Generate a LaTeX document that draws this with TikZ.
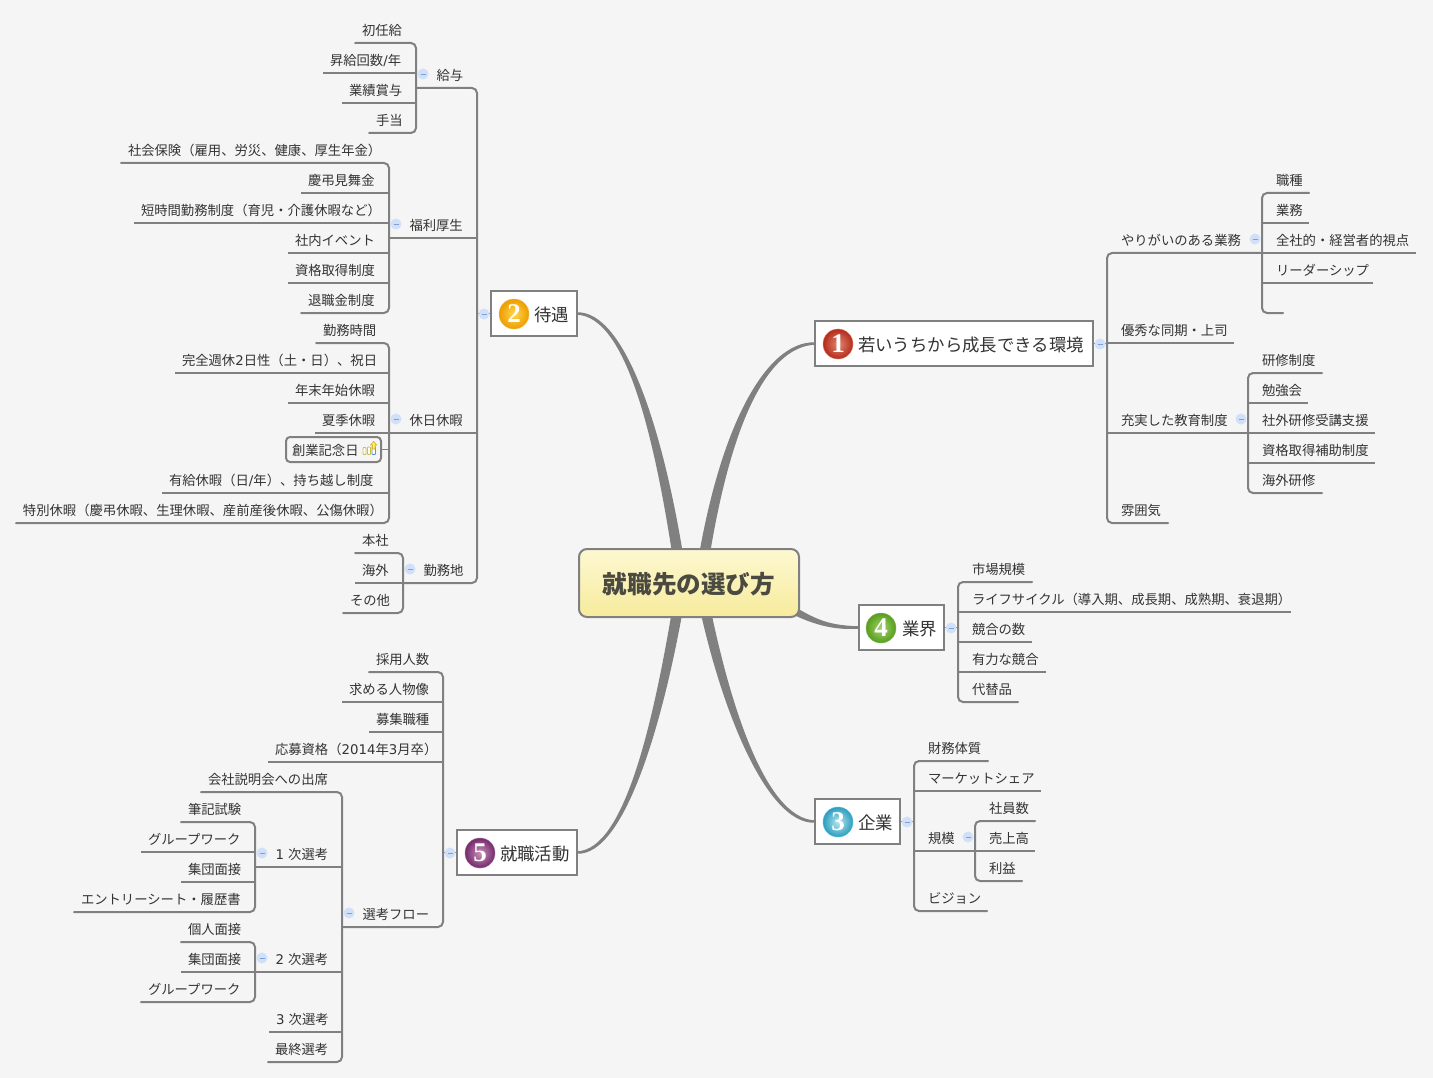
\documentclass[tikz,border=0pt]{standalone}
\usepackage{fontspec}
\setmainfont{Noto Sans CJK JP}
\newfontfamily\lat{DejaVu Sans}
\newfontfamily\numf{Liberation Serif}
\usetikzlibrary{calc,backgrounds,shadings}
\definecolor{bgc}{HTML}{F5F5F5}
\definecolor{linec}{HTML}{808080}
\definecolor{txtc}{HTML}{333333}
\definecolor{minf}{HTML}{CFE0F8}
\definecolor{mind}{HTML}{7F9FD0}
\definecolor{cTop}{HTML}{FDF8D2}
\definecolor{cBot}{HTML}{F7EB9C}
\definecolor{cTxt}{HTML}{4A4A40}
\definecolor{redIn}{HTML}{E08A74}
\definecolor{redOut}{HTML}{B42A18}
\definecolor{orIn}{HTML}{FFD84F}
\definecolor{orOut}{HTML}{EE9C00}
\definecolor{blIn}{HTML}{B8E6EE}
\definecolor{blOut}{HTML}{2A9DC0}
\definecolor{grIn}{HTML}{A8D66C}
\definecolor{grOut}{HTML}{569C1E}
\definecolor{puIn}{HTML}{C890B8}
\definecolor{puOut}{HTML}{752A6C}
\definecolor{icoY}{HTML}{C8C040}
\definecolor{icoB}{HTML}{5F8FD8}
\tikzset{
  leaf/.style={anchor=west,inner sep=0pt,outer sep=0pt,minimum height=26pt,text height=12pt,text depth=1pt,text=txtc,font=\fontsize{13.33}{15}\selectfont},
  conn/.style={draw=linec,line width=2pt,line cap=round},
  busline/.style={conn,rounded corners=5pt},
  topicbox/.style={draw=linec,fill=white,line width=2pt,anchor=west,inner sep=0pt,outer sep=0pt,minimum height=45pt,text height=15.5pt,text depth=.5pt,text=txtc,font=\fontsize{17.4}{20}\selectfont},
  centerbox/.style={draw=linec,line width=2pt,rounded corners=8pt,top color=cTop,bottom color=cBot,minimum width=220pt,minimum height=68pt,inner sep=0pt,outer sep=0pt,text=cTxt,text height=21pt,text depth=.2pt,font=\fontsize{24.6}{28}\bfseries\selectfont},
  marker/.style={circle,minimum size=30pt,inner sep=0pt,outer sep=0pt,text=white,line width=.5pt,font=\numf\bfseries\fontsize{27}{28}\selectfont},
  minusicon/.style={circle,fill=minf,minimum size=11pt,inner sep=0pt,outer sep=0pt,
    path picture={\draw[mind,line width=.8pt] ([xshift=3pt]path picture bounding box.west) -- ([xshift=-3pt]path picture bounding box.east);}},
  linkfill/.style={fill=linec},
  dbox/.style={draw=linec,line width=2pt,rounded corners=4pt,fill=bgc,inner sep=0pt,outer sep=0pt,minimum height=25pt,anchor=west,text height=12pt,text depth=1pt,text=txtc,font=\fontsize{13.33}{15}\selectfont}
}
% left-side leaf: text begins 7 after the left end and may run past its width
\newcommand\LL[5]{\node[leaf] (#1) at (#2,#4) {\hbox to \dimexpr#3pt-#2pt\relax{\hspace*{7pt}#5\hss}};}
% left-side parent: text begins 20.5 after the left end
\newcommand\LP[5]{\node[leaf] (#1) at (#2,#4) {\hbox to \dimexpr#3pt-#2pt\relax{\hspace*{20.5pt}#5\hss}};}
% right side: text begins 14 after the left end
\newcommand\RR[5]{\node[leaf] (#1) at (#2,#4) {\hbox to \dimexpr#3pt-#2pt\relax{\hspace*{14pt}#5\hss}};}
\newcommand\bracketL[2]{\draw[busline] (#1.south west) -- (#1.south east) -- (#2.south east) -- (#2.south west);}
\newcommand\bracketR[2]{\draw[busline] (#1.south east) -- (#1.south west) -- (#2.south west) -- (#2.south east);}
% topic: name, left, right, y, text
\newcommand\topic[5]{\node[topicbox] (#1) at (#2,#4) {\hbox to \dimexpr#3pt-#2pt\relax{\hspace*{43pt}#5\hfil}};}
\newcommand\taper[8]{% start, c1, c2, end, sy, sx, hw start, hw end
  \fill[linkfill] ($(#1)+(0,#5*#7)$) .. controls ($(#2)+(0,#5*#7*2.5)$) and ($(#3)+(#6*#8*.95,0)$) .. ($(#4)+(#6*#8,0)$)
   -- ($(#4)+(-1*#6*#8,0)$) .. controls ($(#3)+(-1*#6*#8*.95,0)$) and ($(#2)+(0,-1*#5*#7*2.5)$) .. ($(#1)+(0,-1*#5*#7)$) -- cycle;}
\begin{document}
\begin{tikzpicture}[x=1pt,y=-1pt]
\useasboundingbox (0,0) rectangle (1433,1078);
\begin{pgfonlayer}{background}
\fill[bgc] (0,0) rectangle (1433,1078);
\end{pgfonlayer}

% central topic
\node[centerbox] (root) at (689,583) {就職先の選び方};

% main topics
\topic{t1}{815}{1093}{343.5}{若いうちから成長できる環境}
\topic{t2}{491}{577}{313.5}{待遇}
\topic{t3}{815}{900}{821.5}{企業}
\topic{t4}{859}{944}{627.5}{業界}
\topic{t5}{457}{577}{852.5}{就職活動}

\node[marker,inner color=redIn,outer color=redOut,draw=redOut!60] (m1) at ([xshift=23pt,yshift=-.5pt]t1.west) {1};
\node[marker,inner color=orIn,outer color=orOut,draw=orOut!70] (m2) at ([xshift=23pt,yshift=-.5pt]t2.west) {2};
\node[marker,inner color=blIn,outer color=blOut,draw=blOut!70] (m3) at ([xshift=23pt,yshift=-.5pt]t3.west) {3};
\node[marker,inner color=grIn,outer color=grOut,draw=grOut!70] (m4) at ([xshift=22pt,yshift=-.5pt]t4.west) {4};
\node[marker,inner color=puIn,outer color=puOut,draw=puOut!70] (m5) at ([xshift=23pt,yshift=-.5pt]t5.west) {5};

% 待遇
\LP{a}{416}{477}{75}{給与}
\LP{b}{389}{477}{225}{福利厚生}
\LP{c}{389}{477}{420}{休日休暇}
\LP{d}{403}{477}{570}{勤務地}

\LL{a1}{355}{416}{30}{初任給}
\LL{a2}{323}{416}{60}{昇給回数{\lat /}年}
\LL{a3}{342}{416}{90}{業績賞与}
\LL{a4}{369}{416}{120}{手当}

\LL{b1}{121}{389}{150}{社会保険（雇用、労災、健康、厚生年金）}
\LL{b2}{301}{389}{180}{慶弔見舞金}
\LL{b3}{134}{389}{210}{短時間勤務制度（育児・介護休暇など）}
\LL{b4}{288}{389}{240}{社内イベント}
\LL{b5}{288}{389}{270}{資格取得制度}
\LL{b6}{301}{389}{300}{退職金制度}

\LL{c1}{316}{389}{330}{勤務時間}
\LL{c2}{175}{389}{360}{完全週休{\lat 2}日性（土・日）、祝日}
\LL{c3}{288}{389}{390}{年末年始休暇}
\LL{c4}{315}{389}{420}{夏季休暇}
\LL{c6}{162}{389}{480}{有給休暇（日{\lat /}年）、持ち越し制度}
\LL{c7}{16}{389}{510}{特別休暇（慶弔休暇、生理休暇、産前産後休暇、公傷休暇）}
\node[dbox] (c5) at (286,449.5) {\hbox to 95pt{\hspace*{6pt}創業記念日\hfil}};

\LL{d1}{355}{403}{540}{本社}
\LL{d2}{355}{403}{570}{海外}
\LL{d3}{343}{403}{600}{その他}

% 就職活動
\LL{e1}{369}{443}{659}{採用人数}
\LL{e2}{342}{443}{689}{求める人物像}
\LL{e3}{369}{443}{719}{募集職種}
\LL{e4}{268}{443}{749}{応募資格（{\lat 2014}年{\lat 3}月卒）}
\LP{e5}{342}{443}{914}{選考フロー}

\LL{f1}{201}{342}{779}{会社説明会への出席}
\LP{f2}{255}{342}{854}{{\lat 1 }次選考}
\LP{f3}{255}{342}{959}{{\lat 2 }次選考}
\LL{f4}{269}{342}{1019}{{\lat 3 }次選考}
\LL{f5}{268}{342}{1049}{最終選考}

\LL{g1}{181}{255}{809}{筆記試験}
\LL{g2}{141}{255}{839}{グループワーク}
\LL{g3}{181}{255}{869}{集団面接}
\LL{g4}{74}{255}{899}{エントリーシート・履歴書}

\LL{h1}{181}{255}{929}{個人面接}
\LL{h2}{181}{255}{959}{集団面接}
\LL{h3}{141}{255}{989}{グループワーク}

% 若いうちから成長できる環境
\RR{i}{1107}{1262}{240}{やりがいのある業務}
\RR{j}{1107}{1234}{330}{優秀な同期・上司}
\RR{k}{1107}{1248}{420}{充実した教育制度}
\RR{l}{1107}{1168}{510}{雰囲気}

\RR{i1}{1262}{1309}{180}{職種}
\RR{i2}{1262}{1309}{210}{業務}
\RR{i3}{1262}{1416}{240}{全社的・経営者的視点}
\RR{i4}{1262}{1373}{270}{リーダーシップ}
\RR{i5}{1262}{1283}{300}{}

\RR{k1}{1248}{1322}{360}{研修制度}
\RR{k2}{1248}{1308}{390}{勉強会}
\RR{k3}{1248}{1375}{420}{社外研修受講支援}
\RR{k4}{1248}{1375}{450}{資格取得補助制度}
\RR{k5}{1248}{1322}{480}{海外研修}

% 業界
\RR{n1}{958}{1032}{569}{市場規模}
\RR{n2}{958}{1291}{599}{ライフサイクル（導入期、成長期、成熟期、衰退期）}
\RR{n3}{958}{1032}{629}{競合の数}
\RR{n4}{958}{1046}{659}{有力な競合}
\RR{n5}{958}{1018}{689}{代替品}

% 企業
\RR{o1}{914}{988}{748}{財務体質}
\RR{o2}{914}{1041}{778}{マーケットシェア}
\RR{o3}{914}{975}{838}{規模}
\RR{o4}{914}{987}{898}{ビジョン}

\RR{p1}{975}{1035}{808}{社員数}
\RR{p2}{975}{1035}{838}{売上高}
\RR{p3}{975}{1022}{868}{利益}

% connectors
\foreach \n in {b,c,a2,a3,b2,b3,b4,b5,c2,c3,c4,c6,d2,e2,e3,e4,f2,f3,f4,g2,g3,h2,j,k,i2,i3,i4,k2,k3,k4,n2,n3,n4,o2,o3,p2}
  \draw[conn,line cap=butt] (\n.south west) -- (\n.south east);
\bracketL{a}{d}
\bracketL{a1}{a4}
\bracketL{b1}{b6}
\bracketL{c1}{c7}
\bracketL{d1}{d3}
\bracketL{e1}{e5}
\bracketL{f1}{f5}
\bracketL{g1}{g4}
\bracketL{h1}{h3}
\bracketR{i}{l}
\bracketR{i1}{i5}
\bracketR{k1}{k5}
\bracketR{n1}{n5}
\bracketR{o1}{o4}
\bracketR{p1}{p3}
\draw[conn,line width=1.2pt] (c5.east) -- (c5.east -| c1.south east);
\draw[conn,line width=1pt] (t2.west) -- (t2.west -| a.south east);
\draw[conn,line width=1pt] (t5.west) -- (t5.west -| e1.south east);
\draw[conn,line width=1pt] (t1.east) -- (t1.east -| i.south west);
\draw[conn,line width=1pt] (t4.east) -- (t4.east -| n1.south west);
\draw[conn,line width=1pt] (t3.east) -- (t3.east -| o1.south west);

% collapse icons
\node[minusicon] (ma) at (423,74) {};
\node[minusicon] (mb) at (396,224) {};
\node[minusicon] (mc) at (396,419) {};
\node[minusicon] (md) at (410,569) {};
\node[minusicon] (mt2) at (484,314) {};
\node[minusicon] (mt5) at (450,853) {};
\node[minusicon] (me5) at (349,913) {};
\node[minusicon] (mf2) at (262,853) {};
\node[minusicon] (mf3) at (262,958) {};
\node[minusicon] (mt1) at (1100,344) {};
\node[minusicon] (mi) at (1255,239) {};
\node[minusicon] (mk) at (1241,419) {};
\node[minusicon] (mt4) at (951,628) {};
\node[minusicon] (mt3) at (907,822) {};
\node[minusicon] (mo3) at (968,837) {};

% small chart icon in the boxed topic
\draw[icoY,fill=white,line width=.9pt,rounded corners=.8pt] (363,447.5) rectangle (366,454.5);
\draw[icoY,fill=white,line width=.9pt,rounded corners=.8pt] (367.5,447) rectangle (370.5,454.5);
\draw[icoB,fill=white,line width=.9pt,rounded corners=.8pt] (372,446.5) rectangle (375.5,454.5);
\draw[icoY!80!orange,fill=yellow!60,line width=.7pt] (373.7,441.5) -- (376.7,445) -- (375,445) -- (375,449) -- (372.5,449) -- (372.5,445) -- (370.7,445) -- cycle;

% branches from the central topic
\begin{pgfonlayer}{background}
\taper{t2.east}{625,314}{660,430}{682,583}{-1}{1}{1.2}{5.5}
\taper{t5.east}{625,853}{660,720}{682,583}{1}{1}{1.2}{5.5}
\taper{t1.west}{765,344}{722,430}{700,583}{-1}{-1}{1.2}{5.5}
\taper{t3.west}{765,822}{722,700}{700,583}{1}{-1}{1.2}{5.5}
\taper{t4.west}{825,628}{805,620}{760,590}{-1}{1}{1.2}{9}
\end{pgfonlayer}
\end{tikzpicture}
\end{document}
